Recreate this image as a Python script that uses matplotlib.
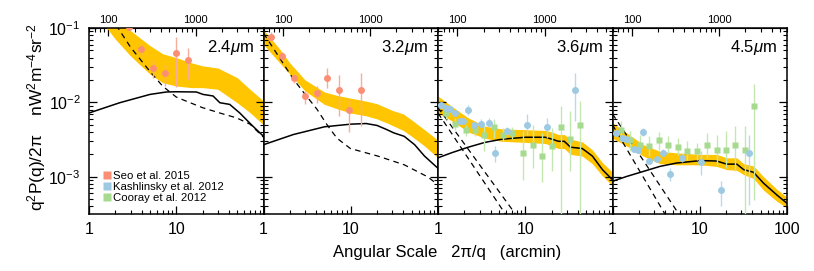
import numpy as np
import matplotlib
matplotlib.use('Agg')
import matplotlib.pyplot as plt
from matplotlib.lines import Line2D
from matplotlib.ticker import LogLocator, NullFormatter

plt.rcParams['font.family'] = ['Liberation Sans', 'DejaVu Sans']
plt.rcParams['mathtext.fontset'] = 'custom'
plt.rcParams['mathtext.rm'] = 'Liberation Sans'
plt.rcParams['mathtext.it'] = 'Liberation Sans:italic'
plt.rcParams['mathtext.bf'] = 'Liberation Sans:bold'

# ---------------- data ----------------
panel_labels = ['2.4$\\mu$m', '3.2$\\mu$m', '3.6$\\mu$m', '4.5$\\mu$m']
legend_labels = ['Seo et al. 2015', 'Kashlinsky et al. 2012', 'Cooray et al. 2012']

# Panel 1 (2.4 um)
p1_band_theta = [1, 1.5, 2, 3, 5, 7, 10, 15, 20, 30, 50, 70, 100]
p1_band_hi = [0.25, 0.17, 0.13, 0.092, 0.058, 0.045, 0.040, 0.034, 0.031, 0.029, 0.0215, 0.015, 0.0105]
p1_band_lo = [0.17, 0.11, 0.071, 0.042, 0.024, 0.0184, 0.0166, 0.0158, 0.0158, 0.015, 0.0099, 0.0073, 0.005]
p1_model_theta = [1, 2.25, 5, 7.7, 10, 17, 20.3, 26.4, 31.6, 41, 53.5, 72.8, 100]
p1_model = [0.0072, 0.0099, 0.0128, 0.0138, 0.0139, 0.0138, 0.0128, 0.0122, 0.0099, 0.0094, 0.0072, 0.0050, 0.0035]
p1_dash_theta = [1, 1.5, 2.15, 3, 5, 7, 10, 13, 20, 31.6, 49, 70, 100]
p1_dash = [0.45, 0.21, 0.1, 0.055, 0.026, 0.0165, 0.0118, 0.0104, 0.0085, 0.0072, 0.0062, 0.0051, 0.0034]
p1_seo_theta = [2.9, 3.98, 5.42, 7.38, 10.0, 13.6]
p1_seo = [0.103, 0.052, 0.0293, 0.0247, 0.046, 0.037]
p1_seo_lo = [0.088, 0.044, 0.0216, 0.0166, 0.0162, 0.0204]
p1_seo_hi = [0.118, 0.061, 0.038, 0.0326, 0.076, 0.054]

# Panel 2 (3.2 um)
p2_band_theta = [1, 1.5, 2, 3, 5, 7, 10, 15, 20, 26, 30, 40, 50, 70, 100]
p2_band_hi = [0.094, 0.054, 0.034, 0.020, 0.0138, 0.0124, 0.0114, 0.0104, 0.0096, 0.0084, 0.0078, 0.0070, 0.0058, 0.0043, 0.0031]
p2_band_lo = [0.060, 0.035, 0.024, 0.0142, 0.0094, 0.0082, 0.0072, 0.0066, 0.0060, 0.0053, 0.0049, 0.0042, 0.0035, 0.0026, 0.0018]
p2_model_theta = [1, 2.2, 5, 10, 15, 20, 26, 31, 41, 54, 70, 100]
p2_model = [0.0027, 0.0037, 0.0047, 0.0051, 0.0052, 0.0049, 0.0043, 0.0039, 0.0035, 0.0027, 0.0019, 0.0013]
p2_dash_theta = [1, 2.21, 3.0, 4.1, 5.35, 6.95, 9.9, 20.4, 41, 76, 100]
p2_dash = [0.085, 0.0204, 0.0128, 0.0081, 0.0050, 0.0033, 0.0024, 0.0019, 0.00145, 0.0010, 0.00078]
p2_seo_theta = [1.22, 1.65, 2.21, 3.0, 4.07, 5.34, 7.27, 9.6, 13.0]
p2_seo = [0.076, 0.042, 0.021, 0.0122, 0.0134, 0.021, 0.0148, 0.0078, 0.0148]
p2_seo_lo = [0.067, 0.037, 0.0184, 0.0095, 0.0099, 0.0155, 0.0065, 0.0040, 0.0048]
p2_seo_hi = [0.087, 0.048, 0.024, 0.0142, 0.0166, 0.0288, 0.0232, 0.0112, 0.0245]

# Panel 3 (3.6 um)
p3_theta = [1, 1.425, 2.22, 3.45, 5.38, 10, 17, 20.3, 24, 28, 33, 45, 58.8, 76.6, 100]
p3_model = [0.0018, 0.0021, 0.0025, 0.0029, 0.0032, 0.0034, 0.0034, 0.0032, 0.0030, 0.0030, 0.0025, 0.0024, 0.0019, 0.00125, 0.00091]
p3_band_hi = [0.0122, 0.0089, 0.0062, 0.0048, 0.0044, 0.0043, 0.0042, 0.0040, 0.0037, 0.0037, 0.0032, 0.00295, 0.0023, 0.00155, 0.00115]
p3_band_lo = [0.0072, 0.0057, 0.0040, 0.0033, 0.0030, 0.0029, 0.0028, 0.0026, 0.0024, 0.0024, 0.0020, 0.0019, 0.0015, 0.00103, 0.00076]
p3_dash_theta = [1, 12]
p3_dashA = [0.0072, 0.000091]
p3_dashB = [0.0085, 0.000155]
p3_kas_theta = [1.09, 1.25, 1.39, 1.56, 1.77, 1.94, 2.21, 2.6, 3.15, 3.82, 4.5, 6.2, 10.4, 17.6, 36.8]
p3_kas = [0.0091, 0.0083, 0.0082, 0.0071, 0.0057, 0.0057, 0.0080, 0.0049, 0.0052, 0.0053, 0.0021, 0.0041, 0.0050, 0.0046, 0.0145]
p3_kas_lo = [0.0084, 0.0076, 0.0075, 0.0065, 0.0052, 0.0052, 0.0068, 0.0044, 0.0046, 0.0046, 0.0016, 0.0036, 0.0037, 0.0033, 0.0056]
p3_kas_hi = [0.0098, 0.0090, 0.0089, 0.0077, 0.0062, 0.0062, 0.0093, 0.0055, 0.0059, 0.0061, 0.0026, 0.0047, 0.0070, 0.0062, 0.025]
p3_coo_theta = [1.25, 1.56, 2.07, 2.65, 3.4, 4.4, 5.6, 7.1, 9.3, 12.2, 15.6, 20, 25.8, 32.8, 42.4]
p3_coo = [0.0072, 0.0051, 0.0042, 0.0042, 0.0037, 0.0047, 0.0037, 0.0039, 0.0021, 0.0027, 0.0019, 0.0026, 0.0046, 0.0032, 0.0050]
p3_coo_lo = [0.0059, 0.0042, 0.0035, 0.0035, 0.0022, 0.0033, 0.0030, 0.0032, 0.00091, 0.0013, 0.00086, 0.0012, 0.0002, 0.0012, 0.0002]
p3_coo_hi = [0.0084, 0.0061, 0.0050, 0.0050, 0.0050, 0.0059, 0.0045, 0.0046, 0.0041, 0.0050, 0.0039, 0.0045, 0.0089, 0.0076, 0.0106]

# Panel 4 (4.5 um)
p4_theta = [1, 1.45, 2.25, 3.5, 5.4, 10.1, 15.6, 20.4, 26.6, 31.8, 41.3, 53.9, 76.5, 100]
p4_model = [0.00087, 0.00101, 0.00118, 0.00138, 0.00153, 0.00165, 0.00163, 0.00148, 0.00148, 0.00125, 0.00115, 0.00082, 0.00057, 0.00044]
p4_band_hi = [0.0053, 0.0039, 0.0027, 0.0022, 0.0021, 0.0020, 0.0020, 0.0018, 0.0018, 0.0015, 0.0014, 0.00100, 0.00068, 0.00053]
p4_band_lo = [0.0033, 0.0026, 0.0019, 0.0015, 0.00145, 0.00145, 0.00138, 0.00125, 0.00122, 0.00107, 0.00095, 0.00066, 0.00047, 0.00038]
p4_dash_theta = [1, 12]
p4_dashA = [0.005, 0.000035]
p4_dashB = [0.007, 0.000086]
p4_kas_theta = [1.11, 1.27, 1.41, 1.76, 1.97, 2.21, 2.62, 3.2, 3.83, 4.56, 6.3, 10.3, 17.6, 36.9]
p4_kas = [0.0039, 0.0033, 0.0032, 0.0024, 0.0023, 0.0040, 0.00165, 0.00175, 0.0021, 0.0011, 0.0018, 0.0016, 0.00066, 0.0021]
p4_kas_lo = [0.0036, 0.0030, 0.0029, 0.0022, 0.0021, 0.0035, 0.0015, 0.0016, 0.0019, 0.00087, 0.0016, 0.00107, 0.00040, 0.00042]
p4_kas_hi = [0.0042, 0.0036, 0.0035, 0.0026, 0.0025, 0.0045, 0.0018, 0.0019, 0.0024, 0.0013, 0.0020, 0.0022, 0.00087, 0.0037]
p4_coo_theta = [1.24, 1.58, 2.06, 2.64, 3.4, 4.36, 5.6, 7.2, 9.4, 12.0, 15.7, 20.1, 25.5, 32.6, 41.4]
p4_coo = [0.0043, 0.0031, 0.0027, 0.0026, 0.0031, 0.0027, 0.0025, 0.0022, 0.0022, 0.0027, 0.0023, 0.0023, 0.0027, 0.0023, 0.0089]
p4_coo_lo = [0.0030, 0.0022, 0.0020, 0.0019, 0.0023, 0.0021, 0.00195, 0.0017, 0.0017, 0.0018, 0.00145, 0.00131, 0.00118, 0.0002, 0.00049]
p4_coo_hi = [0.0056, 0.0041, 0.0037, 0.0035, 0.0040, 0.0035, 0.0033, 0.0030, 0.00285, 0.0039, 0.0037, 0.0041, 0.0048, 0.0048, 0.0175]

# ---------------- style ----------------
band_color = '#FFC500'
seo_c, seo_e = '#FA8F74', '#F8AC9A'
kas_c, kas_e = '#9DC9E2', '#B9DAEE'
coo_c, coo_e = '#A6DA8E', '#C3E8B0'

panels = [
    dict(bt=p1_band_theta, lo=p1_band_lo, hi=p1_band_hi, mt=p1_model_theta, m=p1_model,
         dashes=[(p1_dash_theta, p1_dash)],
         pts=[(p1_seo_theta, p1_seo, p1_seo_lo, p1_seo_hi, 'o', seo_c, seo_e)]),
    dict(bt=p2_band_theta, lo=p2_band_lo, hi=p2_band_hi, mt=p2_model_theta, m=p2_model,
         dashes=[(p2_dash_theta, p2_dash)],
         pts=[(p2_seo_theta, p2_seo, p2_seo_lo, p2_seo_hi, 'o', seo_c, seo_e)]),
    dict(bt=p3_theta, lo=p3_band_lo, hi=p3_band_hi, mt=p3_theta, m=p3_model,
         dashes=[(p3_dash_theta, p3_dashA), (p3_dash_theta, p3_dashB)],
         pts=[(p3_coo_theta, p3_coo, p3_coo_lo, p3_coo_hi, 's', coo_c, coo_e),
              (p3_kas_theta, p3_kas, p3_kas_lo, p3_kas_hi, 'o', kas_c, kas_e)]),
    dict(bt=p4_theta, lo=p4_band_lo, hi=p4_band_hi, mt=p4_theta, m=p4_model,
         dashes=[(p4_dash_theta, p4_dashA), (p4_dash_theta, p4_dashB)],
         pts=[(p4_coo_theta, p4_coo, p4_coo_lo, p4_coo_hi, 's', coo_c, coo_e),
              (p4_kas_theta, p4_kas, p4_kas_lo, p4_kas_hi, 'o', kas_c, kas_e)]),
]

W, H = 814, 271
fig = plt.figure(figsize=(W / 100, H / 100), dpi=100)
x0, pw = 89, 174.5
ytop, ybot = 28, 214

for i, p in enumerate(panels):
    ax = fig.add_axes([(x0 + i * pw) / W, 1 - ybot / H, pw / W, (ybot - ytop) / H])
    ax.set_xscale('log')
    ax.set_yscale('log')
    ax.fill_between(p['bt'], p['lo'], p['hi'], color=band_color, lw=0, zorder=1)
    for dt, dv in p['dashes']:
        ax.plot(dt, dv, color='black', lw=0.9, dashes=(4.5, 3.5), zorder=2)
    ax.plot(p['mt'], p['m'], color='black', lw=1.1, zorder=3)
    for (t, v, lo, hi, mk, c, ec) in p['pts']:
        v = np.array(v); lo = np.array(lo); hi = np.array(hi)
        ax.errorbar(t, v, yerr=[v - lo, hi - v], fmt=mk, color=c, ecolor=ec,
                    ms=5.0 if mk == 'o' else 4.3, mec='none', elinewidth=1.0,
                    capsize=0, zorder=4)
    ax.set_xlim(1, 100)
    ax.set_ylim(10 ** -3.5, 0.1)
    for s in ax.spines.values():
        s.set_linewidth(1.1)
    ax.tick_params(which='both', direction='in', left=True, right=True,
                   top=False, bottom=True, labelsize=11.5, pad=6)
    ax.tick_params(which='major', length=6, width=0.9)
    ax.tick_params(which='minor', length=3, width=0.8)
    ax.set_yticks([1e-3, 1e-2, 1e-1])
    ax.yaxis.set_minor_locator(LogLocator(base=10, subs=np.arange(2, 10)))
    ax.yaxis.set_minor_formatter(NullFormatter())
    if i == 0:
        ax.set_yticklabels(['10$^{-3}$', '10$^{-2}$', '10$^{-1}$'])
    else:
        ax.set_yticklabels([])
    ax.set_xticks([1, 10, 100])
    ax.set_xticklabels(['1', '10', '100' if i == 3 else ''])
    ax.xaxis.set_minor_locator(LogLocator(base=10, subs=np.arange(2, 10)))
    ax.xaxis.set_minor_formatter(NullFormatter())

    sec = ax.secondary_xaxis('top', functions=(lambda x: x * 60.0, lambda x: x / 60.0))
    sec.set_xticks([100, 1000])
    sec.set_xticklabels(['100', '1000'])
    sec.tick_params(which='both', direction='in', labelsize=8, pad=2)
    sec.tick_params(which='major', length=6, width=0.9)
    sec.tick_params(which='minor', length=3, width=0.8)

    ax.text(0.945, 0.895, panel_labels[i], transform=ax.transAxes, ha='right',
            va='center', fontsize=12, zorder=6)

    if i == 0:
        handles = [Line2D([], [], marker='s', ls='none', color=c, mec='none', ms=5.5)
                   for c in (seo_c, kas_c, coo_c)]
        ax.legend(handles, legend_labels, loc='lower left', bbox_to_anchor=(0.075, 0.06),
                  frameon=False, fontsize=8.2, handletextpad=0.2, labelspacing=0.1,
                  borderpad=0, borderaxespad=0, handlelength=0.8)

fig.text(447 / W, 1 - 253 / H, 'Angular Scale   2π/q   (arcmin)', ha='center',
         va='center', fontsize=12)
fig.text(37 / W, 1 - 117 / H, 'q$^2$P(q)/2π    nW$^2$m$^{-4}$sr$^{-2}$', ha='center',
         va='center', rotation=90, fontsize=12.5)

fig.savefig('out.png', dpi=100)
